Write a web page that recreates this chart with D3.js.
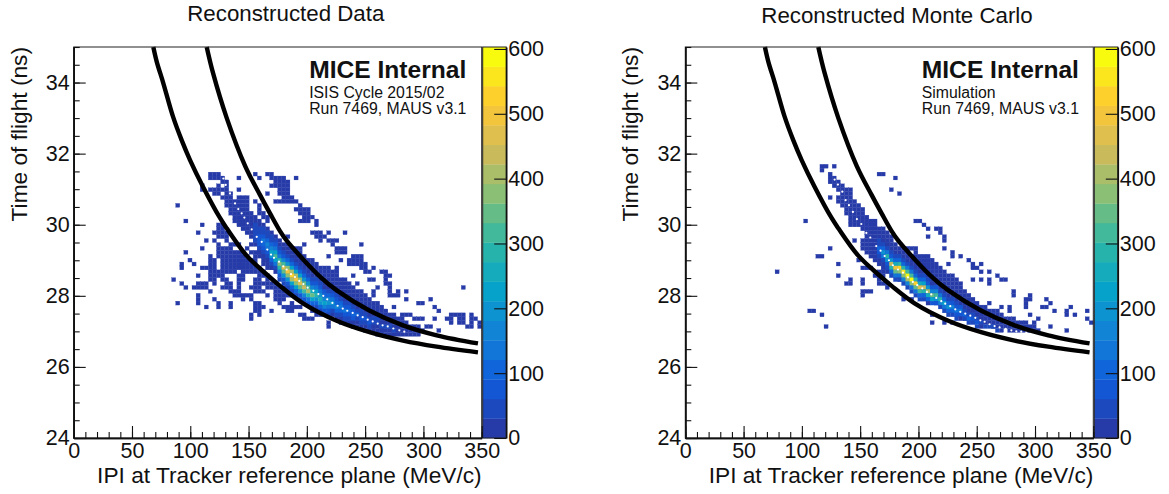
<!DOCTYPE html>
<html>
<head>
<meta charset="utf-8">
<script src="https://cdn.jsdelivr.net/npm/d3@7"></script>
<style>
  html, body { margin: 0; padding: 0; background: #fff; }
  text { font-family: "Liberation Sans", Arial, sans-serif; fill: #111; }
</style>
</head>
<body>
<svg id="chart" width="1169" height="494"></svg>
<script>
// histogram binning: 100 x 100 bins
var pBinWidth = 3.5;    // MeV/c
var tofBinWidth = 0.11; // ns
var lowCount = 10;      // sparse bins, all fall in the first palette band

// sparse bins: [tof bin from the top, [first p bin, last p bin], ...]
var dataSparse = [
  [32,[33,35],[44],[47,48]],
  [33,[33,36],[40],[45],[48,51],[54]],
  [34,[36,37],[49,52]],
  [35,[31],[35],[37],[48,52]],
  [36,[31],[33,37],[40],[50,52]],
  [37,[34,35],[37,38],[47],[50,52]],
  [38,[36,38],[40,42],[51,53]],
  [39,[37,42],[44],[49,54]],
  [40,[25],[37,42],[45],[55]],
  [41,[38,42],[45],[54,57]],
  [42,[38,43],[45,46],[55,57]],
  [43,[39,44],[46,47],[56,58]],
  [44,[27],[39,45],[47],[55,57],[59]],
  [45,[31],[35,36],[40,46],[59]],
  [46,[35,36],[41,47]],
  [47,[30],[34,37],[42,48],[58,60],[62],[66]],
  [48,[35,37],[43,49],[52],[59,61]],
  [49,[32],[34],[37],[44,50],[60],[62,64]],
  [50,[35],[38,40],[43,52],[56],[63],[70]],
  [51,[31],[35,38],[42],[45,55],[64,66]],
  [52,[27],[35,41],[43,55],[64,66]],
  [53,[33],[35,37],[38,42],[44,56],[62],[68,70]],
  [54,[28],[33,34],[36,44],[46,58],[65],[67,70]],
  [55,[26],[29],[33,34],[36,44],[46,59],[67,71]],
  [56,[26],[31,34],[36,45],[47,62],[64],[70,71],[73]],
  [57,[33,34],[35,39],[41,43],[44,46],[50,64],[71,72],[75,76]],
  [58,[30],[33,36],[40,41],[45,47],[52,64],[68],[76,77]],
  [59,[24],[33,34],[36,37],[40,41],[44,45],[47],[54,66],[72,73],[76]],
  [60,[26],[30,32],[34],[37,38],[40],[44,49],[56,67],[69],[76,77]],
  [61,[27],[29,32],[36,38],[40],[43,45],[47,55],[57,68],[74],[77],[95]],
  [62,[33],[38,40],[44,46],[49,54],[59,70],[73],[77],[79],[81]],
  [63,[30],[39,43],[47],[49,53],[60,71],[73],[77,79]],
  [64,[30],[34],[41],[43],[49,51],[61,72],[81],[87]],
  [65,[25],[30],[35],[38],[44,45],[50],[53],[63,74],[84,85]],
  [66,[32],[35],[38],[44,46],[51,55],[60,75],[78],[88]],
  [67,[44,45],[48],[52,53],[58,60],[62,76],[89]],
  [68,[43],[45],[55,56],[59,60],[62,78],[80,82],[92,95],[97]],
  [69,[43],[56,58],[64,80],[83],[84,85],[88],[91,92],[94,95],[97,98]],
  [70,[62],[65,81],[92],[94,95],[97],[99]],
  [71,[62],[68,84],[86,87],[96,97],[99]],
  [72,[71,85],[89]],
  [73,[74,84]]
];

// dense band: [p bin, first tof bin, [counts going down]]
var dataBand = [
  [44,45,[35,50,60,50,35]],
  [45,46,[35,50,75,90,70,45,30]],
  [46,46,[35,55,85,125,100,65,40,30]],
  [47,47,[35,60,100,170,145,90,50,30]],
  [48,48,[35,60,110,180,240,190,110,55,30]],
  [49,49,[35,65,125,220,310,240,130,60,30]],
  [50,51,[40,80,150,280,390,300,160,70,35]],
  [51,52,[40,85,170,320,470,360,190,85,40]],
  [52,53,[50,100,210,380,510,390,210,90,40]],
  [53,54,[50,110,230,400,530,400,220,100,45]],
  [54,55,[50,110,230,400,510,390,220,100,40]],
  [55,56,[50,110,220,370,480,350,190,90,35]],
  [56,57,[50,110,210,340,430,320,170,80,35]],
  [57,58,[50,100,190,310,400,290,150,70]],
  [58,59,[45,90,170,270,340,240,120,50]],
  [59,59,[40,85,150,230,300,210,100,45]],
  [60,60,[35,75,130,200,265,210,110,45]],
  [61,61,[30,65,115,175,235,180,90,40]],
  [62,62,[55,100,155,205,150,75,35]],
  [63,62,[50,90,135,185,125,60]],
  [64,63,[40,70,115,170,120,60]],
  [65,64,[60,100,150,100,50]],
  [66,65,[55,90,130,85,40]],
  [67,65,[45,80,120,75,35]],
  [68,66,[40,70,110,65,30]],
  [69,67,[60,100,55]],
  [70,67,[35,55,90,45]],
  [71,68,[50,80,40]],
  [72,68,[30,45,70,35]],
  [73,69,[40,60,30]],
  [74,69,[35,55]],
  [75,70,[30,50,30]],
  [76,71,[45]],
  [77,71,[40]],
  [78,72,[35]],
  [79,72,[30]]
];

// white profile markers
var dataMeanP = [128.4,130.4,134.1,138.4,141.2,144.1,146.4,149.3,152.7,157,161.3,166.1,169.3,171.8,176.1,179.8,182.7,186.4,189.8,193.5,197,200.7,205.6,209.9,214.1,217.5,221.9,226.4,230.8,234.7,239.3,243.6,247.9,252.2,256.5,260.8,265,269.4,274.2,279.3,283.6];
var dataMeanT = [31.3,31.12,30.88,30.6,30.44,30.32,30.2,30.04,29.87,29.66,29.52,29.3,29.16,29.07,28.96,28.83,28.74,28.61,28.53,28.42,28.33,28.23,28.14,28.05,28,27.9,27.8,27.72,27.64,27.58,27.52,27.45,27.4,27.33,27.28,27.22,27.17,27.14,27.08,27.03,26.99];

var mcSparse = [
  [30,[33,34],[36]],
  [31,[33]],
  [32,[35],[47,48]],
  [33,[35,36],[51]],
  [34,[35,37]],
  [35,[36,38]],
  [36,[37,40],[50]],
  [37,[38,40],[52]],
  [38,[35],[37,40]],
  [39,[37,41]],
  [40,[38,42]],
  [41,[39,43]],
  [42,[39,43]],
  [43,[40,44]],
  [44,[29],[40,46],[56,57]],
  [45,[40,46],[58]],
  [46,[43,48],[59],[61,62]],
  [47,[44,49],[62]],
  [48,[44,50],[59],[63]],
  [49,[41],[43,50],[63]],
  [50,[43,51]],
  [51,[35],[43,56],[63]],
  [52,[44,54],[56],[65]],
  [53,[32,33],[45,59],[65],[67]],
  [54,[42],[46,60],[69]],
  [55,[37],[47,61],[64],[70],[72]],
  [56,[43,45],[48,62],[70,71]],
  [57,[22],[47,63],[72],[74]],
  [58,[37],[46,48],[51,65],[76]],
  [59,[40],[43],[47],[52,66],[70],[72],[74],[77,78]],
  [60,[39,40],[43],[47,49],[54,67],[74]],
  [61,[49],[56,67]],
  [62,[43,45],[57,68],[80]],
  [63,[43],[58,69],[80],[84]],
  [64,[53],[55],[59,70],[83,84],[88]],
  [65,[61,71],[74],[83],[89]],
  [66,[63,73],[77],[79],[83],[87,88],[94]],
  [67,[30,31],[64,75],[76],[79],[90],[93],[98]],
  [68,[33],[60],[66,77],[84],[93],[95]],
  [69,[68,80],[86],[98]],
  [70,[60],[63],[65],[72,83],[85],[99]],
  [71,[34],[75,85],[89]],
  [72,[79,86],[93]]
];

var mcBand = [
  [47,49,[35,60,110,75,40]],
  [48,49,[30,45,95,190,130,60]],
  [49,50,[30,60,140,300,210,90,35]],
  [50,52,[40,80,200,430,300,120,45]],
  [51,53,[40,100,250,510,350,140,50]],
  [52,53,[40,110,280,540,380,150,55]],
  [53,54,[45,120,290,560,390,160,55]],
  [54,55,[50,130,310,590,400,160,50]],
  [55,56,[50,130,310,600,390,150,50]],
  [56,57,[50,120,280,540,350,140,45]],
  [57,58,[45,110,250,480,310,120,40]],
  [58,58,[40,100,230,450,290,110,35]],
  [59,59,[35,90,200,400,260,95,30]],
  [60,60,[30,80,180,350,220,85]],
  [61,61,[70,160,320,190,70]],
  [62,62,[60,140,280,170,60]],
  [63,63,[50,120,240,140,50]],
  [64,64,[45,100,200,115,45]],
  [65,64,[40,90,170,100,40]],
  [66,65,[35,75,150,85,35]],
  [67,66,[65,130,70,30]],
  [68,67,[55,110,60]],
  [69,68,[50,95,50]],
  [70,68,[45,85,45]],
  [71,69,[35,70,35]],
  [72,69,[30,60,30]],
  [73,71,[50]],
  [74,71,[45]],
  [75,71,[40]],
  [76,72,[35]],
  [77,72,[30]]
];

var mcMeanP = [128.1,130.9,134.7,137.5,140.4,143.8,147.2,151,155.3,158.7,163.8,167.5,171,174.7,178.1,182.4,186.7,191,195.2,199,203.3,207.3,211,215.3,219.6,223,227.3,231.6,235.9,240.2,244.5,248.8,253.1,256.8,261,265.3,269.6,274.8,279.7,284,288.2,292.5,296.8];
var mcMeanT = [31.27,31.13,30.93,30.69,30.55,30.36,30.16,30.02,29.77,29.64,29.4,29.27,29.12,29,28.86,28.74,28.65,28.52,28.39,28.3,28.21,28.11,28.04,27.94,27.85,27.78,27.71,27.62,27.55,27.5,27.44,27.38,27.31,27.27,27.2,27.15,27.11,27.07,27.03,27,26.99,26.97,26.96];

// selection curves, same on both panels
var lowerP = [68.3,71.2,76.9,85.2,92.6,99.8,110.9,125.5,131.3,148.4,165.6,177,196.7,225.6,254.5,282.5,311.4,346.8];
var lowerT = [35,34.59,33.98,33.04,32.38,31.82,31.07,30.19,29.9,29.13,28.6,28.28,27.79,27.3,26.97,26.74,26.57,26.41];
var upperP = [114.1,119.5,131.3,147.1,159.8,168.4,177,182.7,196.7,211,225.4,254,282.5,311.4,346.8];
var upperT = [35,34.27,33.0,31.65,30.84,30.32,29.82,29.55,29.03,28.55,28.16,27.58,27.17,26.89,26.66];

// axes
var pTicks = [0,50,100,150,200,250,300,350];
var tofTicks = [24,26,28,30,32,34];
var zTicks = [0,100,200,300,400,500,600];
var zMax = 603;
var paletteBands = 20;

// ROOT kBird stops, low end lifted to the blue of the picture
var birdR = [0.15,0.0592,0.0780,0.0232,0.1802,0.5301,0.8186,0.9956,0.9764];
var birdG = [0.23,0.3599,0.5041,0.6419,0.7178,0.7492,0.7328,0.7862,0.9832];
var birdB = [0.66,0.8684,0.8385,0.7914,0.6425,0.4662,0.3499,0.1968,0.0539];

var stopScale = d3.scaleLinear().domain(d3.range(9).map(function(i){ return i / 8; })).clamp(true);
var birdColor = function(f){
  var r = stopScale.range(birdR)(f) * 255;
  var g = stopScale.range(birdG)(f) * 255;
  var b = stopScale.range(birdB)(f) * 255;
  return d3.rgb(r, g, b).formatHex();
};
// colour of a bin: flat 20 level palette
var bandColor = function(count){
  var level = Math.min(paletteBands - 1, Math.floor(count / zMax * paletteBands));
  return birdColor(level / (paletteBands - 1));
};

var svg = d3.select('#chart');

function drawPanel(opt){
  var h = {top: 47, bottom: 438};
  var x = d3.scaleLinear().domain([0, 350]).range([opt.left, opt.left + 408]);
  var y = d3.scaleLinear().domain([24, 35]).range([h.bottom, h.top]);
  var z = d3.scaleLinear().domain([0, zMax]).range([h.bottom, h.top]);
  var g = svg.append('g');

  // flatten sparse rows into cells, band columns go on top
  var cells = [];
  opt.sparse.forEach(function(row){
    row.slice(1).forEach(function(run){
      var last = run.length > 1 ? run[1] : run[0];
      for (var i = run[0]; i <= last; i++) { cells.push({i: i, j: row[0], n: lowCount}); }
    });
  });
  opt.band.forEach(function(col){
    col[2].forEach(function(n, k){ cells.push({i: col[0], j: col[1] + k, n: n}); });
  });

  g.append('g').selectAll('rect')
    .data(cells)
    .enter().append('rect')
    .attr('x', function(d){ return x(d.i * pBinWidth); })
    .attr('y', function(d){ return y(35 - d.j * tofBinWidth); })
    .attr('width', x(pBinWidth) - x(0))
    .attr('height', y(35 - tofBinWidth) - y(35))
    .attr('fill', function(d){ return bandColor(d.n); })
    .attr('stroke', function(d){ return bandColor(d.n); })
    .attr('stroke-width', 0.25);

  // profile markers
  g.append('g').selectAll('circle')
    .data(opt.meanP)
    .enter().append('circle')
    .attr('cx', function(d){ return x(d); })
    .attr('cy', function(d, i){ return y(opt.meanT[i]); })
    .attr('r', 1.1)
    .attr('fill', '#fff');

  // selection curves
  var line = d3.line()
    .x(function(d){ return x(d[0]); })
    .y(function(d){ return y(d[1]); })
    .curve(d3.curveCatmullRom.alpha(0.5));
  [[lowerP, lowerT], [upperP, upperT]].forEach(function(c){
    g.append('path')
      .attr('d', line(d3.zip(c[0], c[1])))
      .attr('fill', 'none')
      .attr('stroke', '#000')
      .attr('stroke-width', 4.4);
  });

  // palette
  var bandH = (h.bottom - h.top) / paletteBands;
  g.append('g').selectAll('rect')
    .data(d3.range(paletteBands))
    .enter().append('rect')
    .attr('x', opt.left + 409)
    .attr('width', 23.5)
    .attr('y', function(d){ return z((d + 1) * zMax / paletteBands); })
    .attr('height', bandH + 0.3)
    .attr('fill', function(d){ return birdColor(d / (paletteBands - 1)); });

  // frame
  g.append('rect')
    .attr('x', opt.left).attr('y', h.top)
    .attr('width', 408).attr('height', h.bottom - h.top)
    .attr('fill', 'none').attr('stroke', '#222').attr('stroke-width', 1);
  g.append('rect')
    .attr('x', opt.left + 409).attr('y', h.top)
    .attr('width', 23.5).attr('height', h.bottom - h.top)
    .attr('fill', 'none').attr('stroke', '#222').attr('stroke-width', 1);

  // axes: inward ticks, minor ticks as a second unlabelled axis
  var bottom = g.append('g').attr('transform', 'translate(0,' + h.bottom + ')');
  bottom.append('g').call(d3.axisBottom(x).tickValues(d3.range(0, 351, 10)).tickSizeInner(-6).tickSizeOuter(0))
    .selectAll('text').remove();
  bottom.append('g').call(d3.axisBottom(x).tickValues(pTicks).tickSizeInner(-12).tickSizeOuter(0).tickPadding(4.5));

  var left = g.append('g').attr('transform', 'translate(' + opt.left + ',0)');
  left.append('g').call(d3.axisLeft(y).tickValues(d3.range(24, 35.01, 0.5)).tickSizeInner(-6).tickSizeOuter(0))
    .selectAll('text').remove();
  left.append('g').call(d3.axisLeft(y).tickValues(tofTicks).tickSizeInner(-12).tickSizeOuter(0).tickPadding(4));

  var right = g.append('g').attr('transform', 'translate(' + (opt.left + 432.5) + ',0)');
  right.call(d3.axisRight(z).tickValues(zTicks).tickSizeInner(-12).tickSizeOuter(0).tickPadding(2));

  g.selectAll('.domain').attr('stroke', '#111').attr('stroke-width', 1.6);
  g.selectAll('.tick line').attr('stroke', '#111').attr('stroke-width', 1.1);
  g.selectAll('.tick text').attr('font-size', 21.5).attr('font-family', '"Liberation Sans", Arial, sans-serif').attr('fill', '#111');

  // labels
  g.append('text')
    .attr('x', opt.left + 408).attr('y', 483)
    .attr('text-anchor', 'end').attr('font-size', 22.7)
    .text('IPI at Tracker reference plane (MeV/c)');
  g.append('text')
    .attr('transform', 'translate(' + (opt.left - 47) + ',47) rotate(-90)')
    .attr('text-anchor', 'end').attr('font-size', 22.7)
    .text('Time of flight (ns)');
  g.append('text')
    .attr('x', opt.titleX).attr('y', opt.titleY)
    .attr('text-anchor', 'middle').attr('font-size', 22.3)
    .text(opt.title);
  g.append('text')
    .attr('x', opt.left + opt.noteX).attr('y', 78)
    .attr('font-size', 24.6).attr('font-weight', 'bold')
    .text('MICE Internal');
  opt.notes.forEach(function(t, i){
    g.append('text')
      .attr('x', opt.left + opt.noteX).attr('y', 98 + i * 16)
      .attr('font-size', 15.8)
      .text(t);
  });
}

drawPanel({
  left: 73.7, titleX: 285.8, titleY: 20.7, noteX: 235.5,
  title: 'Reconstructed Data',
  notes: ['ISIS Cycle 2015/02', 'Run 7469, MAUS v3.1'],
  sparse: dataSparse, band: dataBand, meanP: dataMeanP, meanT: dataMeanT
});
drawPanel({
  left: 685.3, titleX: 897, titleY: 22.7, noteX: 236.5,
  title: 'Reconstructed Monte Carlo',
  notes: ['Simulation', 'Run 7469, MAUS v3.1'],
  sparse: mcSparse, band: mcBand, meanP: mcMeanP, meanT: mcMeanT
});
</script>
</body>
</html>
